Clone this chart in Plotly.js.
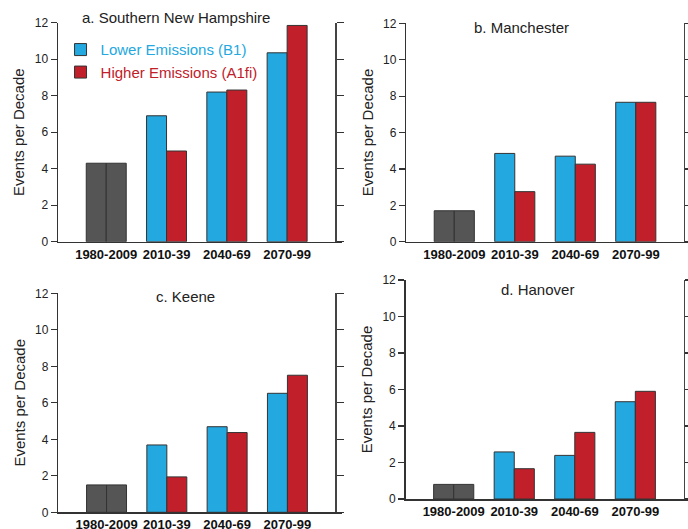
<!DOCTYPE html>
<html>
<head>
<meta charset="utf-8">
<script src="https://cdn.plot.ly/plotly-3.0.1.min.js"></script>
<style>html,body{margin:0;padding:0;background:#fff;}#chart{width:688px;height:529px;}</style>
</head>
<body>
<div id="chart"></div>
<script>
const periods = ['1980-2009', '2010-39', '2040-69', '2070-99'];
const panelTitles = ['a. Southern New Hampshire', 'b. Manchester', 'c. Keene', 'd. Hanover'];
const historical = [4.3, 1.7, 1.5, 0.8];
const lowerB1 = [
  [6.9, 8.2, 10.35],
  [4.85, 4.7, 7.66],
  [3.69, 4.69, 6.52],
  [2.58, 2.39, 5.33]
];
const higherA1fi = [
  [4.97, 8.31, 11.85],
  [2.75, 4.26, 7.66],
  [1.94, 4.37, 7.51],
  [1.66, 3.65, 5.9]
];
const seriesNames = ['Lower Emissions (B1)', 'Higher Emissions (A1fi)'];
const yTicks = [0, 2, 4, 6, 8, 10, 12];

const BLUE = '#23a8e0', RED = '#c1202a', GRAY = '#555555', EDGE = '#333333';
const FONT = 'Liberation Sans, Arial, Helvetica, sans-serif';
const W = 688, H = 529;

// panel geometry (pixels)
const panels = [
  {x0: 58, x1: 342, top: 22.7, bot: 241.7, rx: 335, r0: -0.80, r1: 3.91, tx: 176, ty: 18},
  {x0: 406.3, x1: 688, top: 23.3, bot: 241.7, rx: 683.5, r0: -0.793, r1: 3.863, tx: 521.5, ty: 27},
  {x0: 58.3, x1: 342, top: 293.3, bot: 512.3, rx: 335, r0: -0.80, r1: 3.905, tx: 185.8, ty: 296.2},
  {x0: 405.7, x1: 688, top: 280, bot: 499, rx: 683.5, r0: -0.793, r1: 3.87, tx: 537, ty: 289.2}
];

const traces = [];
const layout = {
  width: W, height: H,
  margin: {l: 0, r: 0, t: 0, b: 0},
  paper_bgcolor: '#fff', plot_bgcolor: 'rgba(0,0,0,0)',
  font: {family: FONT, color: '#222'},
  barmode: 'group', bargap: 0.337, bargroupgap: 0,
  showlegend: true,
  legend: {
    x: 0.088, y: 0.937, xanchor: 'left', yanchor: 'top',
    bgcolor: 'rgba(0,0,0,0)', font: {size: 15, family: FONT},
    tracegroupgap: 0
  },
  annotations: []
};

panels.forEach((p, i) => {
  const k = i + 1;
  const xa = 'x' + (k === 1 ? '' : k), ya = 'y' + (k === 1 ? '' : k);
  const yRightName = 'yaxis' + (k + 4);
  const cats = periods.slice(1);
  traces.push({type: 'bar', x: [periods[0]], y: [historical[i]], xaxis: xa, yaxis: ya,
    offsetgroup: 'A', marker: {color: GRAY, line: {color: EDGE, width: 1}}, showlegend: false, hoverinfo: 'y'});
  traces.push({type: 'bar', x: [periods[0]], y: [historical[i]], xaxis: xa, yaxis: ya,
    offsetgroup: 'B', marker: {color: GRAY, line: {color: EDGE, width: 1}}, showlegend: false, hoverinfo: 'y'});
  traces.push({type: 'bar', x: cats, y: lowerB1[i], xaxis: xa, yaxis: ya, offsetgroup: 'A',
    name: '<span style="color:' + BLUE + '">' + seriesNames[0] + '</span>', legendgroup: 'b1', legendrank: 1,
    marker: {color: BLUE, line: {color: EDGE, width: 1}}, showlegend: i === 0});
  traces.push({type: 'bar', x: cats, y: higherA1fi[i], xaxis: xa, yaxis: ya, offsetgroup: 'B',
    name: '<span style="color:' + RED + '">' + seriesNames[1] + '</span>', legendgroup: 'a1', legendrank: 2,
    marker: {color: RED, line: {color: EDGE, width: 1}}, showlegend: i === 0});

  const xdom = [p.x0 / W, Math.min(p.x1 / W, 1)];
  const ydom = [(H - p.bot) / H, (H - p.top) / H];
  layout['xaxis' + (k === 1 ? '' : k)] = {
    domain: xdom, anchor: ya, type: 'category', categoryarray: periods, categoryorder: 'array',
    range: [p.r0, p.r1], showline: true, linecolor: EDGE, linewidth: 1.5, ticks: '',
    showgrid: false, zeroline: false, fixedrange: true,
    tickfont: {size: 13, family: FONT, color: '#111', weight: 'bold'}
  };
  layout['yaxis' + (k === 1 ? '' : k)] = {
    domain: ydom, anchor: xa, range: [0, 12], tickvals: yTicks, ticks: 'outside', ticklen: 6,
    tickcolor: EDGE, tickwidth: 1.2,
    showline: true, linecolor: EDGE, linewidth: 1.5, showgrid: false, zeroline: false,
    tickfont: {size: 12, family: FONT, color: '#222'},
    title: {text: 'Events per Decade', font: {size: 15, family: FONT, color: '#222'}, standoff: 6}
  };
  layout[yRightName] = {
    domain: ydom, overlaying: ya, anchor: 'free', position: p.rx / W, side: 'right',
    range: [0, 12], tickvals: yTicks, ticks: 'outside', ticklen: 7, tickcolor: EDGE, tickwidth: 1.2,
    showticklabels: false, showline: true, linecolor: '#444', linewidth: 1.5,
    showgrid: false, zeroline: false
  };
  // empty trace to keep the right axis
  traces.push({type: 'scatter', x: [], y: [], xaxis: xa, yaxis: 'y' + (k + 4), showlegend: false, hoverinfo: 'skip'});

  layout.annotations.push({
    text: panelTitles[i], xref: 'paper', yref: 'paper', x: p.tx / W, y: (H - p.ty) / H,
    xanchor: 'center', yanchor: 'middle', showarrow: false, font: {size: 15, family: FONT, color: '#222'}
  });
});

Plotly.newPlot('chart', traces, layout, {displayModeBar: false, staticPlot: true});
</script>
</body>
</html>
